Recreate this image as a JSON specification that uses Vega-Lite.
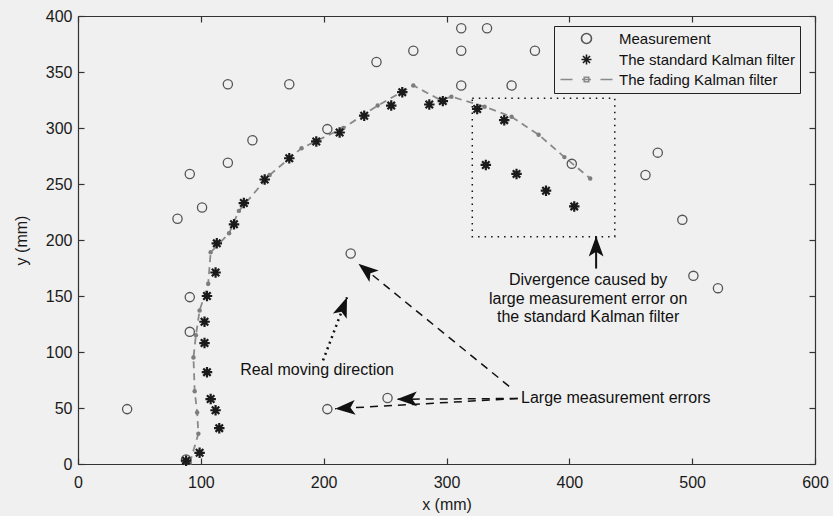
{
  "$schema": "https://vega.github.io/schema/vega-lite/v6.json",
  "width": 737,
  "height": 448,
  "autosize": {"type": "none"},
  "padding": {"left": 78, "top": 16, "right": 18, "bottom": 52},
  "background": "#f0f0f0",
  "config": {
    "view": {"stroke": null},
    "font": "Liberation Sans",
    "axis": {
      "labelFont": "Liberation Sans", "labelFontSize": 16, "labelColor": "#1a1a1a",
      "titleFont": "Liberation Sans", "titleFontSize": 16, "titleFontWeight": "normal", "titleColor": "#1a1a1a",
      "domainColor": "#333333", "domainWidth": 1.2, "tickColor": "#333333", "tickWidth": 1.2,
      "grid": false
    }
  },
  "datasets": {
    "pts": [
      {"series": "Measurement", "i": 1, "x": 40, "y": 49},
      {"series": "Measurement", "i": 2, "x": 88, "y": 4},
      {"series": "Measurement", "i": 3, "x": 91, "y": 118},
      {"series": "Measurement", "i": 4, "x": 91, "y": 149},
      {"series": "Measurement", "i": 5, "x": 81, "y": 219},
      {"series": "Measurement", "i": 6, "x": 101, "y": 229},
      {"series": "Measurement", "i": 7, "x": 91, "y": 259},
      {"series": "Measurement", "i": 8, "x": 122, "y": 269},
      {"series": "Measurement", "i": 9, "x": 142, "y": 289},
      {"series": "Measurement", "i": 10, "x": 122, "y": 339},
      {"series": "Measurement", "i": 11, "x": 172, "y": 339},
      {"series": "Measurement", "i": 12, "x": 203, "y": 299},
      {"series": "Measurement", "i": 13, "x": 222, "y": 188},
      {"series": "Measurement", "i": 14, "x": 203, "y": 49},
      {"series": "Measurement", "i": 15, "x": 252, "y": 59},
      {"series": "Measurement", "i": 16, "x": 243, "y": 359},
      {"series": "Measurement", "i": 17, "x": 273, "y": 369},
      {"series": "Measurement", "i": 18, "x": 312, "y": 389},
      {"series": "Measurement", "i": 19, "x": 333, "y": 389},
      {"series": "Measurement", "i": 20, "x": 312, "y": 369},
      {"series": "Measurement", "i": 21, "x": 312, "y": 338},
      {"series": "Measurement", "i": 22, "x": 353, "y": 338},
      {"series": "Measurement", "i": 23, "x": 372, "y": 369},
      {"series": "Measurement", "i": 24, "x": 402, "y": 268},
      {"series": "Measurement", "i": 25, "x": 462, "y": 258},
      {"series": "Measurement", "i": 26, "x": 472, "y": 278},
      {"series": "Measurement", "i": 27, "x": 492, "y": 218},
      {"series": "Measurement", "i": 28, "x": 501, "y": 168},
      {"series": "Measurement", "i": 29, "x": 521, "y": 157},
      {"series": "The standard Kalman filter", "i": 1, "x": 88, "y": 3},
      {"series": "The standard Kalman filter", "i": 2, "x": 99, "y": 10},
      {"series": "The standard Kalman filter", "i": 3, "x": 115, "y": 32},
      {"series": "The standard Kalman filter", "i": 4, "x": 112, "y": 48},
      {"series": "The standard Kalman filter", "i": 5, "x": 108, "y": 58},
      {"series": "The standard Kalman filter", "i": 6, "x": 105, "y": 82},
      {"series": "The standard Kalman filter", "i": 7, "x": 103, "y": 108},
      {"series": "The standard Kalman filter", "i": 8, "x": 103, "y": 127},
      {"series": "The standard Kalman filter", "i": 9, "x": 105, "y": 150},
      {"series": "The standard Kalman filter", "i": 10, "x": 112, "y": 171},
      {"series": "The standard Kalman filter", "i": 11, "x": 113, "y": 197},
      {"series": "The standard Kalman filter", "i": 12, "x": 127, "y": 214},
      {"series": "The standard Kalman filter", "i": 13, "x": 135, "y": 233},
      {"series": "The standard Kalman filter", "i": 14, "x": 152, "y": 254},
      {"series": "The standard Kalman filter", "i": 15, "x": 172, "y": 273},
      {"series": "The standard Kalman filter", "i": 16, "x": 194, "y": 288},
      {"series": "The standard Kalman filter", "i": 17, "x": 213, "y": 296},
      {"series": "The standard Kalman filter", "i": 18, "x": 233, "y": 311},
      {"series": "The standard Kalman filter", "i": 19, "x": 255, "y": 320},
      {"series": "The standard Kalman filter", "i": 20, "x": 264, "y": 332},
      {"series": "The standard Kalman filter", "i": 21, "x": 286, "y": 321},
      {"series": "The standard Kalman filter", "i": 22, "x": 297, "y": 324},
      {"series": "The standard Kalman filter", "i": 23, "x": 325, "y": 317},
      {"series": "The standard Kalman filter", "i": 24, "x": 347, "y": 307},
      {"series": "The standard Kalman filter", "i": 25, "x": 332, "y": 267},
      {"series": "The standard Kalman filter", "i": 26, "x": 357, "y": 259},
      {"series": "The standard Kalman filter", "i": 27, "x": 381, "y": 244},
      {"series": "The standard Kalman filter", "i": 28, "x": 404, "y": 230},
      {"series": "The fading Kalman filter", "i": 1, "x": 91, "y": 1},
      {"series": "The fading Kalman filter", "i": 2, "x": 98, "y": 27},
      {"series": "The fading Kalman filter", "i": 3, "x": 97, "y": 46},
      {"series": "The fading Kalman filter", "i": 4, "x": 95, "y": 65},
      {"series": "The fading Kalman filter", "i": 5, "x": 94, "y": 95},
      {"series": "The fading Kalman filter", "i": 6, "x": 96, "y": 115},
      {"series": "The fading Kalman filter", "i": 7, "x": 99, "y": 137},
      {"series": "The fading Kalman filter", "i": 8, "x": 106, "y": 161},
      {"series": "The fading Kalman filter", "i": 9, "x": 108, "y": 189},
      {"series": "The fading Kalman filter", "i": 10, "x": 123, "y": 206},
      {"series": "The fading Kalman filter", "i": 11, "x": 131, "y": 226},
      {"series": "The fading Kalman filter", "i": 12, "x": 156, "y": 258},
      {"series": "The fading Kalman filter", "i": 13, "x": 182, "y": 282},
      {"series": "The fading Kalman filter", "i": 14, "x": 216, "y": 300},
      {"series": "The fading Kalman filter", "i": 15, "x": 244, "y": 320},
      {"series": "The fading Kalman filter", "i": 16, "x": 273, "y": 338},
      {"series": "The fading Kalman filter", "i": 17, "x": 295, "y": 325},
      {"series": "The fading Kalman filter", "i": 18, "x": 304, "y": 328},
      {"series": "The fading Kalman filter", "i": 19, "x": 331, "y": 319},
      {"series": "The fading Kalman filter", "i": 20, "x": 353, "y": 310},
      {"series": "The fading Kalman filter", "i": 21, "x": 375, "y": 294},
      {"series": "The fading Kalman filter", "i": 22, "x": 396, "y": 274},
      {"series": "The fading Kalman filter", "i": 23, "x": 417, "y": 255}
    ],
    "arrows": [
      {"kind": "dash", "x": 358, "y": 58.5, "x2": 259.5, "y2": 57.8, "angle": 269},
      {"kind": "dash", "x": 358, "y": 58.5, "x2": 209.3, "y2": 49.3, "angle": 266},
      {"kind": "dash", "x": 351, "y": 69.3, "x2": 228.3, "y2": 178.9, "angle": 309},
      {"kind": "dot", "x": 199.5, "y": 92.5, "x2": 219, "y2": 148.8, "angle": 21},
      {"kind": "solid", "x": 421.8, "y": 174.5, "x2": 421.8, "y2": 203.3, "angle": 0}
    ],
    "box": [{"x": 321, "x2": 437, "y": 203, "y2": 326.5}],
    "leftText": [
      {"label": "Real moving direction", "x": 132, "y": 83.6},
      {"label": "Large measurement errors", "x": 360.7, "y": 58.5}
    ],
    "centerText": [
      {"label": "Divergence caused by", "x": 415.3, "y": 164.6},
      {"label": "large measurement error on", "x": 415.3, "y": 147.6},
      {"label": "the standard Kalman filter", "x": 415.3, "y": 131.2}
    ]
  },
  "resolve": {"axis": {"x": "independent", "y": "independent"}},
  "layer": [
    {
      "data": {"name": "pts"},
      "transform": [{"filter": "datum.series === 'The fading Kalman filter'"}],
      "mark": {"type": "line", "color": "#8a8a8a", "strokeWidth": 1.8, "strokeDash": [7, 5]},
      "encoding": {
        "x": {"field": "x", "type": "quantitative", "axis": null},
        "y": {"field": "y", "type": "quantitative", "axis": null},
        "order": {"field": "i", "type": "quantitative"}
      }
    },
    {
      "data": {"name": "pts"},
      "transform": [{"filter": "datum.series === 'The fading Kalman filter'"}],
      "mark": {"type": "point", "filled": true, "shape": "circle", "size": 20, "color": "#7d7d7d", "opacity": 1},
      "encoding": {
        "x": {"field": "x", "type": "quantitative", "axis": null},
        "y": {"field": "y", "type": "quantitative", "axis": null}
      }
    },
    {
      "data": {"name": "pts"},
      "transform": [{"filter": "datum.series === 'Measurement'"}],
      "mark": {"type": "point", "filled": false, "opacity": 1, "size": 85, "strokeWidth": 1.3},
      "encoding": {
        "x": {"field": "x", "type": "quantitative", "scale": {"domain": [0, 600], "nice": false},
          "axis": {"orient": "bottom", "values": [0, 100, 200, 300, 400, 500, 600], "title": "x (mm)", "tickSize": -6, "labelPadding": 16, "titlePadding": 6, "labelFlush": false}},
        "y": {"field": "y", "type": "quantitative", "scale": {"domain": [0, 400], "nice": false},
          "axis": {"orient": "left", "values": [0, 50, 100, 150, 200, 250, 300, 350, 400], "title": "y (mm)", "tickSize": -6, "labelPadding": 12, "titlePadding": 16, "labelFlush": false}},
        "color": {"field": "series", "type": "nominal",
          "scale": {"domain": ["Measurement", "The standard Kalman filter", "The fading Kalman filter"], "range": ["#555555", "#1a1a1a", "#8a8a8a"]},
          "legend": {
            "title": null, "orient": "none", "legendX": 476, "legendY": 10,
            "strokeColor": "#222222", "fillColor": "#f0f0f0", "padding": 5,
            "labelFont": "Liberation Sans", "labelFontSize": 15, "labelColor": "#111111",
            "symbolOffset": 20, "labelOffset": 25, "rowPadding": 4, "labelLimit": 400, "symbolSize": 100,
            "symbolStrokeWidth": 1.6
          }},
        "shape": {"field": "series", "type": "nominal",
          "scale": {"domain": ["Measurement", "The standard Kalman filter", "The fading Kalman filter"], "range": ["circle", "M0,-1L0,1M-1,0L1,0M-0.71,-0.71L0.71,0.71M-0.71,0.71L0.71,-0.71", "M-5.2,0H-2.8M2.8,0H5.2M-0.9,0H0.9M-0.45,-0.45H0.45V0.45H-0.45Z"]},
          "legend": null}
      }
    },
    {
      "data": {"name": "pts"},
      "transform": [{"filter": "datum.series === 'The standard Kalman filter'"}],
      "mark": {"type": "point", "filled": false, "opacity": 1, "size": 110, "strokeWidth": 2.2},
      "encoding": {
        "x": {"field": "x", "type": "quantitative", "axis": null},
        "y": {"field": "y", "type": "quantitative", "axis": null},
        "color": {"field": "series", "type": "nominal"},
        "shape": {"field": "series", "type": "nominal", "legend": null}
      }
    },
    {
      "data": {"name": "box"},
      "mark": {"type": "rect", "fill": null, "fillOpacity": 0, "stroke": "#111111", "strokeWidth": 1.5, "strokeDash": [1.5, 5]},
      "encoding": {
        "x": {"field": "x", "type": "quantitative", "axis": {"orient": "top", "values": [0, 100, 200, 300, 400, 500, 600], "labels": false, "title": null, "tickSize": -6}},
        "x2": {"field": "x2"},
        "y": {"field": "y", "type": "quantitative", "axis": {"orient": "right", "values": [0, 50, 100, 150, 200, 250, 300, 350, 400], "labels": false, "title": null, "tickSize": -6}},
        "y2": {"field": "y2"}
      }
    },
    {
      "data": {"name": "arrows"},
      "transform": [{"filter": "datum.kind === 'dash'"}],
      "mark": {"type": "rule", "color": "#111111", "strokeWidth": 1.5, "strokeDash": [8, 6]},
      "encoding": {
        "x": {"field": "x", "type": "quantitative", "axis": null},
        "y": {"field": "y", "type": "quantitative", "axis": null},
        "x2": {"field": "x2"}, "y2": {"field": "y2"}
      }
    },
    {
      "data": {"name": "arrows"},
      "transform": [{"filter": "datum.kind === 'dot'"}],
      "mark": {"type": "rule", "color": "#111111", "strokeWidth": 2.5, "strokeDash": [2, 4]},
      "encoding": {
        "x": {"field": "x", "type": "quantitative", "axis": null},
        "y": {"field": "y", "type": "quantitative", "axis": null},
        "x2": {"field": "x2"}, "y2": {"field": "y2"}
      }
    },
    {
      "data": {"name": "arrows"},
      "transform": [{"filter": "datum.kind === 'solid'"}],
      "mark": {"type": "rule", "color": "#111111", "strokeWidth": 2},
      "encoding": {
        "x": {"field": "x", "type": "quantitative", "axis": null},
        "y": {"field": "y", "type": "quantitative", "axis": null},
        "x2": {"field": "x2"}, "y2": {"field": "y2"}
      }
    },
    {
      "data": {"name": "arrows"},
      "mark": {"type": "point", "filled": true, "color": "#111111", "opacity": 1, "size": 180, "shape": "M0,0L1.1,3L0,2.3L-1.1,3Z"},
      "encoding": {
        "x": {"field": "x2", "type": "quantitative", "axis": null},
        "y": {"field": "y2", "type": "quantitative", "axis": null},
        "angle": {"field": "angle", "type": "quantitative", "scale": null}
      }
    },
    {
      "data": {"name": "leftText"},
      "mark": {"type": "text", "align": "left", "baseline": "middle", "font": "Liberation Sans", "fontSize": 16, "color": "#111111"},
      "encoding": {
        "x": {"field": "x", "type": "quantitative", "axis": null},
        "y": {"field": "y", "type": "quantitative", "axis": null},
        "text": {"field": "label"}
      }
    },
    {
      "data": {"name": "centerText"},
      "mark": {"type": "text", "align": "center", "baseline": "middle", "font": "Liberation Sans", "fontSize": 16, "color": "#111111"},
      "encoding": {
        "x": {"field": "x", "type": "quantitative", "axis": null},
        "y": {"field": "y", "type": "quantitative", "axis": null},
        "text": {"field": "label"}
      }
    }
  ]
}
